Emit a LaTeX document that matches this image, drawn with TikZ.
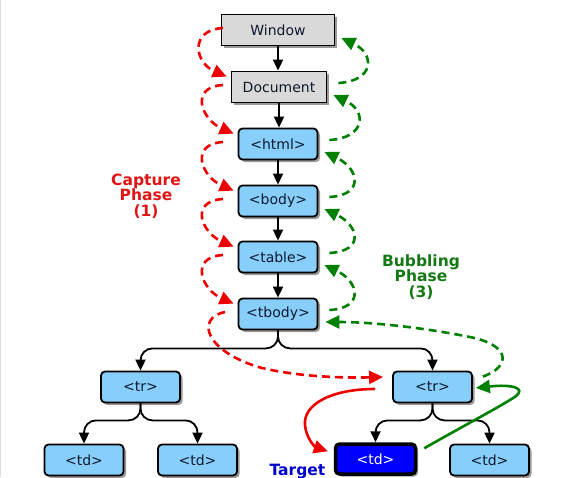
\documentclass[tikz,border=0pt]{standalone}
\usepackage{fontspec}
\setmainfont{DejaVu Sans}
\usetikzlibrary{arrows.meta,shadows,calc}
\definecolor{boxblue}{RGB}{135,206,250}
\definecolor{boxgray}{RGB}{217,217,217}
\definecolor{capred}{RGB}{238,0,0}
\definecolor{bubgreen}{RGB}{0,128,0}
\definecolor{txtred}{RGB}{225,20,20}
\definecolor{txtgreen}{RGB}{20,120,20}
\definecolor{tgtblue}{RGB}{0,0,255}
\definecolor{lblblue}{RGB}{0,0,205}
\definecolor{boxtext}{RGB}{15,25,45}
\begin{document}
\begin{tikzpicture}[x=1pt,y=-1pt,
  boxfont/.style={font=\fontsize{14}{16}\selectfont},
  basebox/.style={boxfont, draw=black, line width=1.8pt, text=boxtext, inner sep=0pt,
    minimum height=31pt,
    drop shadow={shadow xshift=2.5pt, shadow yshift=-2.5pt, opacity=0.4, fill=black}},
  graybox/.style={basebox, fill=boxgray, minimum width=#1},
  bluebox/.style={basebox, fill=boxblue, rounded corners=4pt, minimum width=79pt},
  tgtbox/.style={basebox, fill=tgtblue, text=white, rounded corners=4pt, line width=3.5pt,
    minimum width=80pt, minimum height=30pt},
  blk/.style={draw=black, line width=1.8pt, -{Triangle[length=11pt,width=10pt]}},
  branch/.style={blk, rounded corners=12pt},
  capd/.style={draw=capred, line width=2.6pt, dash pattern=on 8pt off 5pt,
    -{Triangle[length=14pt,width=13pt]}},
  caps/.style={draw=capred, line width=2.6pt, -{Triangle[length=14pt,width=13pt]}},
  bubd/.style={draw=bubgreen, line width=2.6pt, dash pattern=on 8pt off 5pt,
    -{Triangle[length=14pt,width=13pt]}},
  bubs/.style={draw=bubgreen, line width=2.6pt, -{Triangle[length=14pt,width=13pt]}},
  phase/.style={font=\fontsize{15.5}{15.5}\selectfont\bfseries, align=center, inner sep=0pt}
]
\useasboundingbox (0,0) rectangle (577,477);
\fill[white] (0,0) rectangle (577,477);
\draw[black!13, line width=1pt] (0.5,0) -- (0.5,477);

% nodes
\node[graybox=113pt] (win) at (278,30) {Window};
\node[graybox=95pt] (doc) at (279,87) {Document};
\node[bluebox] (html) at (278,144) {<html>};
\node[bluebox] (body) at (278,201) {<body>};
\node[bluebox] (table) at (278,257) {<table>};
\node[bluebox] (tbody) at (278,314) {<tbody>};
\node[bluebox] (trL) at (140.5,387) {<tr>};
\node[bluebox] (trR) at (432.5,387) {<tr>};
\node[bluebox] (td1) at (84,460) {<td>};
\node[bluebox] (td2) at (197.5,460) {<td>};
\node[tgtbox] (tgt) at (375.5,459) {<td>};
\node[bluebox] (td4) at (489.5,460) {<td>};

\node[phase, text=txtred] (cap) at (146,196) {Capture\\Phase\\(1)};
\node[phase, text=txtgreen] (bub) at (421,277) {Bubbling\\Phase\\(3)};
\node[font=\fontsize{15.5}{16}\selectfont\bfseries, text=lblblue, anchor=base, inner sep=0pt] (tlbl) at (297.5,475) {Target};

% tree connectors
\draw[blk] (win.south) -- (doc.north -| win.south);
\draw[blk] (doc.south) -- (html.north -| doc.south);
\draw[blk] (html) -- (body);
\draw[blk] (body) -- (table);
\draw[blk] (table) -- (tbody);
\draw[branch] (tbody.south) -- ++(0,18) -| (trL.north);
\draw[branch] (tbody.south) -- ++(0,18) -| (trR.north);
\draw[branch] (trL.south) -- ++(0,17) -| (td1.north);
\draw[branch] (trL.south) -- ++(0,17) -| (td2.north);
\draw[branch] (trR.south) -- ++(0,17) -| (tgt.north);
\draw[branch] (trR.south) -- ++(0,17) -| (td4.north);

% capture phase arrows
\coordinate (capx) at (223,0);
\foreach \a/\b in {win/doc, doc/html, html/body, body/table, table/tbody}{
  \draw[capd] let \p1=($(\a.center -| capx)+(0,-2)$), \p2=($(\b.north west)+(-4,6)$) in
    (\p1) .. controls ($(\p1)+(-34,2)$) and ($(\p2)+(-32,-14)$) .. (\p2);
}
\draw[capd] ($(tbody.center -| capx)+(2,-2)$) .. controls (195,318) and (205,352) ..
  (262,368) .. controls (300,377) and (345,378) .. ($(trR.west)+(-9,-10)$);
\draw[caps] ($(trR.west)+(-17,2)$) .. controls (330,389) and (303,405) ..
  (305,425) .. controls (306,438) and (315,447) .. ($(tgt.north west)+(-6,9)$);

% bubbling phase arrows
\foreach \a/\b in {doc/win, html/doc, body/html, table/body, tbody/table}{
  \draw[bubd] let \p1=($(\a.east)+(11,-4)$), \p2=($(\b.east)+(6,8)$) in
    (\p1) .. controls ($(\p1)+(36,-2)$) and ($(\p2)+(34,16)$) .. (\p2);
}
\draw[bubd] ($(trR.north east)+(10,6)$) .. controls (512,366) and (510,345) ..
  (470,337) .. controls (420,327) and (370,322) .. ($(tbody.east)+(7,8)$);
\draw[bubs] ($(tgt.north east)+(7,6)$) .. controls (465,425) and (505,404) ..
  (516,396) .. controls (526,388) and (512,384) .. ($(trR.east)+(3,1)$);
\end{tikzpicture}
\end{document}
